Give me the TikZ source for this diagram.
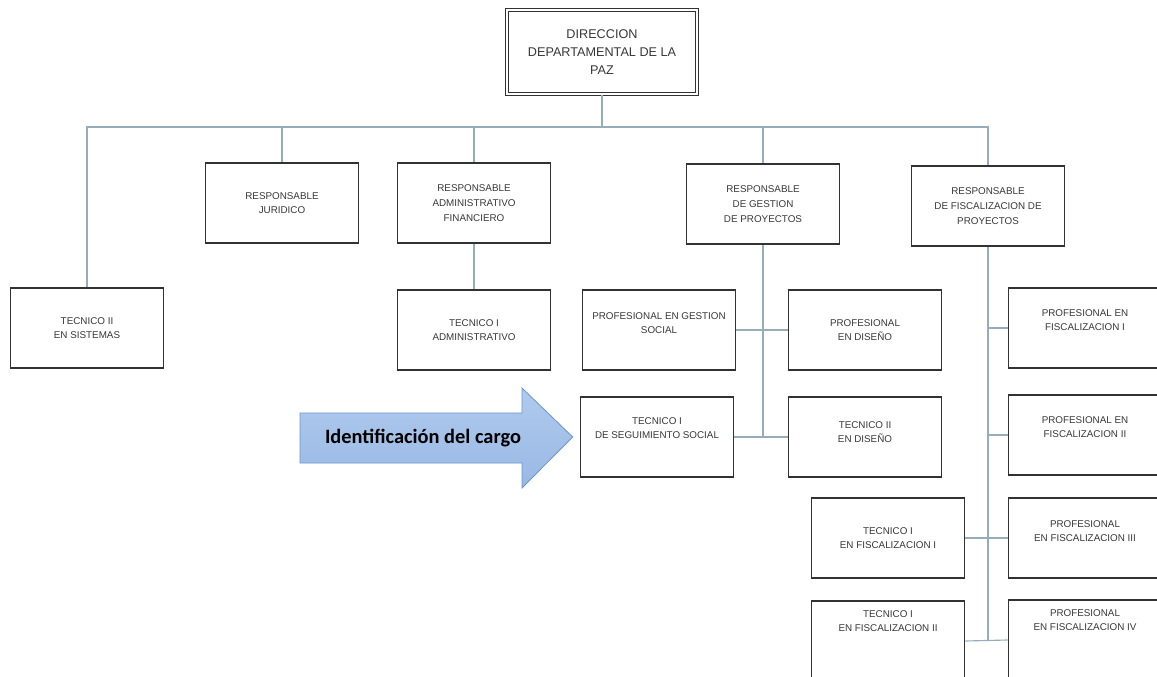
\documentclass[tikz,border=0pt]{standalone}
\usepackage{fontspec}
\setmainfont{Liberation Sans}
\newfontfamily\calibri{Carlito}
\usetikzlibrary{calc}

\definecolor{linea}{RGB}{150,172,184}
\definecolor{borde}{RGB}{50,50,50}
\definecolor{flechaA}{RGB}{176,202,238}
\definecolor{flechaB}{RGB}{152,184,228}
\definecolor{flechaC}{RGB}{110,150,205}

\begin{document}
\begin{tikzpicture}[x=0.025cm, y=-0.025cm,
    cargo/.style={draw=borde, line width=1.1pt, fill=white, align=center,
        minimum width=3.825cm, minimum height=2cm, inner sep=1pt,
        text=black!78, font=\fontsize{7}{10.5}\selectfont},
    jefe/.style={cargo, double=white, double distance=1.4pt, line width=0.9pt,
        minimum width=4.75cm, minimum height=2.1cm,
        font=\fontsize{9}{13}\selectfont},
    arriba/.style={text depth=#1},
    link/.style={draw=linea, line width=0.8pt}]

\useasboundingbox (0,0) rectangle (1157,677);
\clip (0,0) rectangle (1157,677);
\fill[white] (0,0) rectangle (1157,677);

% 顶部方框
\node[jefe] (dir) at (602,52) {DIRECCION\\DEPARTAMENTAL DE LA\\PAZ};

% 第二层
\node[cargo] (jur)  at (282,203) {RESPONSABLE\\JURIDICO};
\node[cargo] (adm)  at (474,203) {RESPONSABLE\\ADMINISTRATIVO\\FINANCIERO};
\node[cargo] (gest) at (763,204) {RESPONSABLE\\DE GESTION\\DE PROYECTOS};
\node[cargo] (fisc) at (988,206) {RESPONSABLE\\DE FISCALIZACION DE\\PROYECTOS};
\node[cargo] (sis)  at (87,328)  {TECNICO II\\EN SISTEMAS};

% 第三层
\node[cargo] (tadm) at (474,330) {TECNICO I\\ADMINISTRATIVO};
\node[cargo, arriba=0.35cm] (pgs)  at (659,330) {PROFESIONAL EN GESTION\\SOCIAL};
\node[cargo] (pdis) at (865,330) {PROFESIONAL\\EN DISEÑO};
\node[cargo, arriba=0.45cm] (tss)  at (657,437) {TECNICO I\\DE SEGUIMIENTO SOCIAL};
\node[cargo, arriba=0.25cm] (tdis) at (865,437) {TECNICO II\\EN DISEÑO};

% 右侧
\node[cargo, arriba=0.4cm]  (pf1) at (1085,328) {PROFESIONAL EN\\FISCALIZACION I};
\node[cargo, arriba=0.4cm]  (pf2) at (1085,435) {PROFESIONAL EN\\FISCALIZACION II};
\node[cargo]                (tf1) at (888,538)  {TECNICO I\\EN FISCALIZACION I};
\node[cargo, arriba=0.35cm] (pf3) at (1085,538) {PROFESIONAL\\EN FISCALIZACION III};
\node[cargo, arriba=1cm]    (tf2) at (888,641)  {TECNICO I\\EN FISCALIZACION II};
\node[cargo, arriba=1cm]    (pf4) at (1085,640) {PROFESIONAL\\EN FISCALIZACION IV};

% 连线
\coordinate (bus) at (602,127);
\draw[link] (dir.south) -- (bus);
\draw[link] (sis.north) |- (fisc.north |- bus) -- (fisc.north);
\foreach \n in {jur,adm,gest} {
    \draw[link] (\n.north) -- (\n.north |- bus);
}
\draw[link] (adm.south) -- (tadm.north);

\draw[link] (gest.south) -- (gest.south |- tss.east);
\draw[link] (pgs.east) -- (pdis.west);
\draw[link] (tss.east) -- (tdis.west);

\draw[link] (fisc.south) -- (fisc.south |- tf2.east);
\draw[link] (pf1.west) -- (pf1.west -| fisc.south);
\draw[link] (pf2.west) -- (pf2.west -| fisc.south);
\draw[link] (tf1.east) -- (pf3.west);
\draw[link] (tf2.east) -- (pf4.west);

% 箭头
\coordinate (punta) at ($(tss.west)+(-7,0)$);
\draw[flechaC, line width=0.6pt, top color=flechaA, bottom color=flechaB]
    (300,413) -- (522,413) -- (522,388) -- (punta) -- (522,488)
    -- (522,463) -- (300,463) -- cycle;
\node[font=\calibri\bfseries\fontsize{14.5}{17}\selectfont, text=black] (txt)
    at (423,438) {Identificación del cargo};

\end{tikzpicture}
\end{document}
